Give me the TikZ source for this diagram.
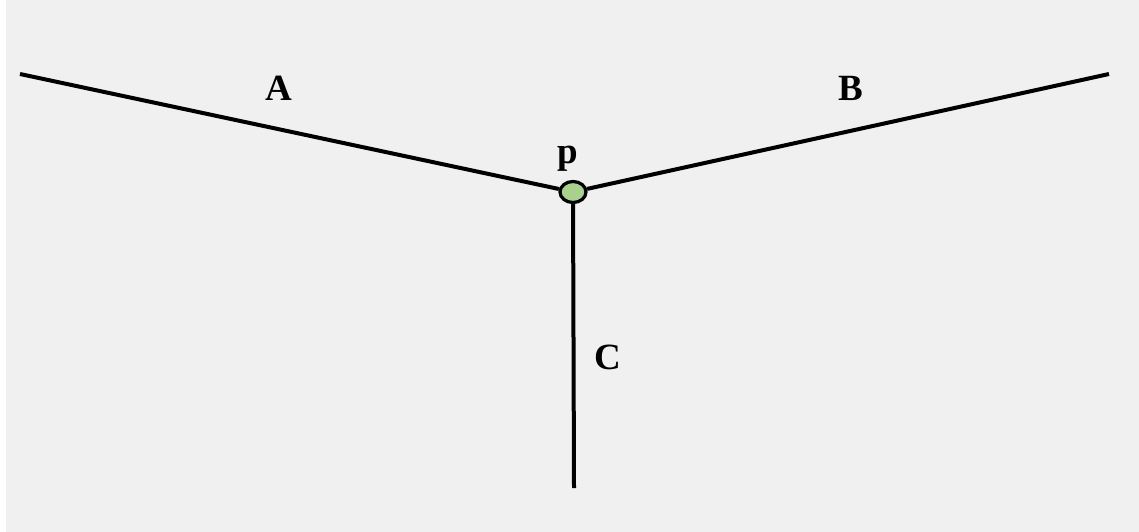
\documentclass[tikz,border=0pt]{standalone}
\usepackage{fontspec}
\setmainfont{Liberation Serif}
\usetikzlibrary{shapes.geometric}

\definecolor{bggray}{HTML}{F0F0F0}
\definecolor{nodegreen}{HTML}{A9D18E}

\tikzset{
    edgeline/.style={line width=4pt, black},
    junction/.style={ellipse, draw, line width=3.2pt, fill=nodegreen, minimum width=26pt, minimum height=21pt, inner sep=0pt},
    lbl/.style={font=\fontsize{37}{40}\selectfont\bfseries, inner sep=0pt}
}

\begin{document}
\begin{tikzpicture}[x=1pt, y=-1pt]
    % background
    \useasboundingbox (0,0) rectangle (1139,532);
    \fill[white] (0,0) rectangle (1139,532);
    \fill[bggray] (6,0) rectangle (1139,532);

    % end points of the three branches
    \coordinate (endA) at (20,74);
    \coordinate (endB) at (1109,74);
    \coordinate (endC) at (574,488);

    % the junction
    \node[junction] (p) at (573,192) {};

    % branches
    \draw[edgeline] (endA) -- (p);
    \draw[edgeline] (endB) -- (p);
    \draw[edgeline] (endC) -- (p);

    % labels
    \node[lbl] (labA) at (279,88) {A};
    \node[lbl] (labB) at (851,88) {B};
    \node[lbl] (labp) at (568,159) {p};
    \node[lbl] (labC) at (608,357) {C};
\end{tikzpicture}
\end{document}
